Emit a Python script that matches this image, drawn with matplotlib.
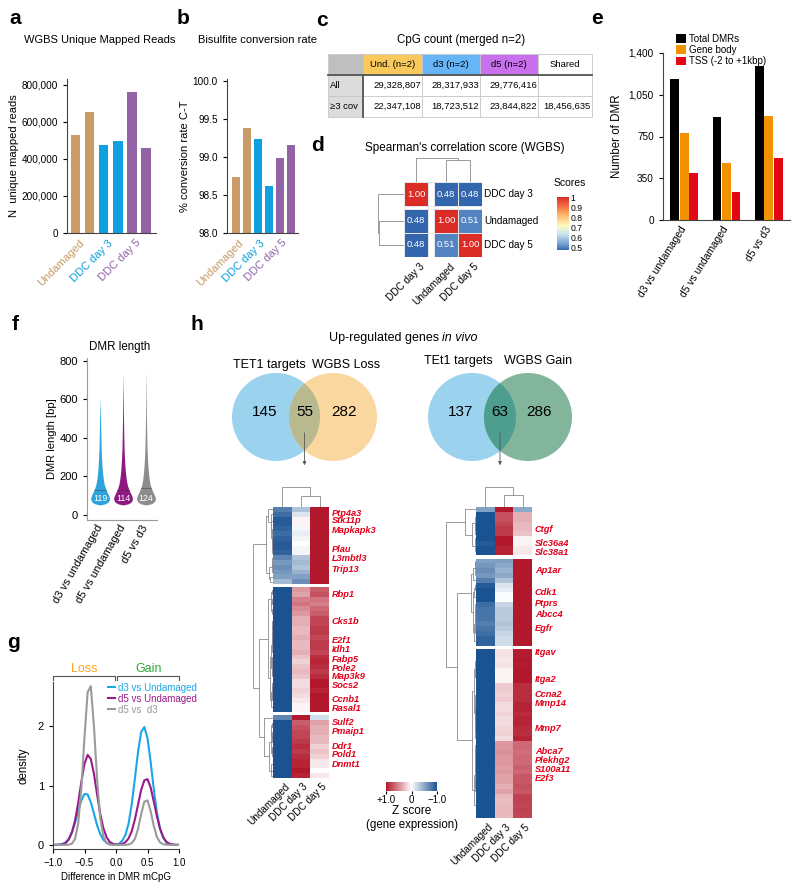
import numpy as np
import matplotlib
matplotlib.use('Agg')
import matplotlib.pyplot as plt
from matplotlib.patches import Circle
from matplotlib.colors import LinearSegmentedColormap

plt.rcParams['font.family'] = ['Liberation Sans', 'DejaVu Sans']
plt.rcParams['axes.linewidth'] = 0.8
plt.rcParams['axes.edgecolor'] = '#444444'
plt.rcParams['xtick.major.size'] = 3
plt.rcParams['ytick.major.size'] = 3
plt.rcParams['xtick.major.width'] = 0.8
plt.rcParams['ytick.major.width'] = 0.8

########################## data ##########################

samples = ['Undamaged', 'DDC day 3', 'DDC day 5']
sample_colors = ['#c89b67', '#0ea0e0', '#9264a6']
mapped_reads = [530000, 655000, 478000, 497000, 760000, 460000]
conversion = [98.73, 99.38, 99.23, 98.61, 98.99, 99.16]

table_head = ['', 'Und. (n=2)', 'd3 (n=2)', 'd5 (n=2)', 'Shared']
table_rows = ['All', '\u22653 cov']
cpg_all = ['29,328,807', '28,317,933', '29,776,416', '']
cpg_cov3 = ['22,347,108', '18,723,512', '23,844,822', '18,456,635']

corr_names = ['DDC day 3', 'Undamaged', 'DDC day 5']
corr = [[1.00, 0.48, 0.48],
        [0.48, 1.00, 0.51],
        [0.48, 0.51, 1.00]]

dmr_comps = ['d3 vs undamaged', 'd5 vs undamaged', 'd5 vs d3']
dmr_total = [1182, 863, 1291]
dmr_body = [729, 478, 872]
dmr_tss = [394, 235, 520]

# DMR length violins (shape)
len_median = [119, 114, 124]
len_max = [610, 740, 750]
len_line = [132, 128, 138]
profile_bp = [52, 58, 66, 76, 88, 100, 115, 132, 155, 180, 215, 250, 300, 350, 420, 500]
profile_w = [0.0, 0.55, 0.82, 0.97, 1.0, 0.93, 0.78, 0.62, 0.46, 0.36, 0.27, 0.21, 0.15, 0.11, 0.08, 0.05]
violin_colors = ['#2ca3dc', '#8e1a80', '#8c8c8c']

# density of DMR mCpG differences, sampled every 0.05 from -1 to 1
dens_x = np.linspace(-1, 1, 41)
dens_d3_und = [0, 0, 0.004, 0.015, 0.042, 0.10, 0.21, 0.37, 0.57, 0.75, 0.86, 0.85, 0.72, 0.53, 0.33,
               0.18, 0.085, 0.035, 0.012, 0.005, 0.008, 0.02, 0.07, 0.17, 0.36, 0.69, 1.12, 1.57, 1.91,
               1.99, 1.80, 1.40, 0.94, 0.54, 0.27, 0.12, 0.04, 0.01, 0.003, 0, 0]
dens_d5_und = [0, 0, 0.003, 0.01, 0.03, 0.09, 0.21, 0.41, 0.71, 1.06, 1.37, 1.52, 1.45, 1.20, 0.85,
               0.52, 0.28, 0.13, 0.05, 0.02, 0.005, 0.004, 0.016, 0.045, 0.11, 0.23, 0.43, 0.68, 0.93,
               1.09, 1.11, 0.97, 0.73, 0.48, 0.27, 0.13, 0.05, 0.02, 0.006, 0, 0]
dens_d5_d3 = [0, 0, 0, 0, 0, 0.003, 0.02, 0.10, 0.36, 0.95, 1.82, 2.58, 2.68, 2.00, 1.11,
              0.45, 0.14, 0.03, 0.005, 0, 0, 0, 0, 0, 0.006, 0.03, 0.10, 0.27, 0.52,
              0.73, 0.75, 0.57, 0.32, 0.13, 0.04, 0.01, 0.002, 0, 0, 0, 0]
dens_labels = ['d3 vs Undamaged', 'd5 vs Undamaged', 'd5 vs  d3']
dens_colors = ['#1aa7e8', '#9b1a8a', '#9a9a9a']

venn_loss = [145, 55, 282]
venn_gain = [137, 63, 286]

# z-scores (Undamaged, DDC day 3, DDC day 5), one list per row cluster
hm_loss = [
    [[-0.75, -0.35, 1.10], [-0.85, -0.15, 1.00], [-0.95, 0.05, 1.00], [-0.95, 0.05, 1.00],
     [-0.90, -0.05, 1.00], [-0.85, -0.10, 1.00], [-0.90, -0.05, 1.00], [-0.95, 0.0, 1.00],
     [-0.95, -0.05, 1.05], [-0.90, -0.05, 1.05], [-0.70, -0.35, 1.10], [-0.60, -0.40, 1.10],
     [-0.65, -0.35, 1.10], [-0.60, -0.45, 1.10], [-0.55, -0.55, 1.10], [-0.40, -0.65, 1.10]],
    [[-1.15, 0.45, 0.70], [-1.15, 0.40, 0.75], [-1.15, 0.55, 0.60], [-1.15, 0.60, 0.55],
     [-1.15, 0.50, 0.65], [-1.15, 0.45, 0.70], [-1.15, 0.35, 0.80], [-1.15, 0.35, 0.80],
     [-1.15, 0.30, 0.85], [-1.15, 0.30, 0.85], [-1.15, 0.35, 0.80], [-1.15, 0.30, 0.85],
     [-1.15, 0.30, 0.85], [-1.15, 0.35, 0.80], [-1.15, 0.25, 0.90], [-1.15, 0.20, 0.95],
     [-1.15, 0.25, 0.90], [-1.15, 0.30, 0.85], [-1.15, 0.25, 0.90], [-1.15, 0.15, 1.00],
     [-1.15, 0.15, 1.00], [-1.15, 0.20, 0.95], [-1.15, 0.15, 1.00], [-1.10, 0.10, 1.00],
     [-1.05, 0.05, 1.00], [-1.05, 0.05, 1.00]],
    [[-0.70, 1.10, -0.20], [-1.10, 0.70, 0.40], [-1.10, 0.75, 0.35], [-1.15, 0.80, 0.35],
     [-1.15, 0.80, 0.30], [-1.15, 0.85, 0.30], [-1.10, 0.90, 0.20], [-1.10, 0.85, 0.25],
     [-1.10, 0.90, 0.20], [-1.05, 0.95, 0.10], [-1.05, 0.95, 0.10], [-1.00, 1.00, 0.0],
     [-1.05, 0.95, 0.10]],
]
hm_gain = [
    [[-0.55, 1.10, -0.50], [-1.10, 0.75, 0.35], [-1.10, 0.75, 0.35], [-1.10, 0.80, 0.30],
     [-1.10, 0.85, 0.30], [-1.05, 0.85, 0.25], [-1.00, 1.00, 0.05], [-0.95, 1.05, 0.05],
     [-1.00, 0.95, 0.10], [-1.00, 0.95, 0.10]],
    [[-0.55, -0.55, 1.10], [-0.60, -0.50, 1.10], [-0.65, -0.45, 1.10], [-0.60, -0.50, 1.10],
     [-0.75, -0.35, 1.10], [-0.95, -0.15, 1.10], [-1.00, -0.10, 1.10], [-1.05, -0.02, 1.10],
     [-1.05, -0.02, 1.10], [-0.85, -0.25, 1.10], [-0.80, -0.30, 1.10], [-0.80, -0.30, 1.10],
     [-0.80, -0.30, 1.10], [-0.75, -0.35, 1.10], [-0.80, -0.30, 1.10], [-0.85, -0.25, 1.10],
     [-0.90, -0.20, 1.10], [-0.90, -0.20, 1.10]],
    [[-1.10, 0.12, 0.98], [-1.10, 0.12, 0.98], [-1.10, 0.10, 1.00], [-1.10, 0.12, 0.98],
     [-1.10, 0.05, 1.05], [-1.10, 0.05, 1.05], [-1.10, 0.05, 1.05], [-1.10, 0.22, 0.90],
     [-1.10, 0.22, 0.90], [-1.10, 0.20, 0.90], [-1.10, 0.22, 0.90], [-1.10, 0.15, 0.95],
     [-1.10, 0.15, 0.95], [-1.10, 0.18, 0.92], [-1.10, 0.15, 0.95], [-1.10, 0.15, 0.95],
     [-1.10, 0.18, 0.92], [-1.10, 0.20, 0.90], [-1.10, 0.15, 0.95], [-1.10, 0.45, 0.65],
     [-1.10, 0.45, 0.65], [-1.10, 0.48, 0.62], [-1.10, 0.45, 0.65], [-1.10, 0.45, 0.65],
     [-1.10, 0.42, 0.68], [-1.10, 0.45, 0.65], [-1.10, 0.40, 0.72], [-1.10, 0.40, 0.72],
     [-1.10, 0.35, 0.75], [-1.10, 0.40, 0.72], [-1.10, 0.30, 0.82], [-1.10, 0.28, 0.82],
     [-1.10, 0.30, 0.80], [-1.10, 0.30, 0.82], [-1.10, 0.30, 0.80]],
]
# (gene, row cluster, row position inside the cluster)
labels_loss = [('Ptp4a3', 0, 1.25), ('Stk11p', 0, 2.9), ('Mapkapk3', 0, 4.8), ('Plau', 0, 8.9),
               ('L3mbtl3', 0, 10.8), ('Trip13', 0, 12.9), ('Rbp1', 1, 1.5), ('Cks1b', 1, 7.1),
               ('E2f1', 1, 11.0), ('Idh1', 1, 12.9), ('Fabp5', 1, 15.1), ('Pole2', 1, 16.8),
               ('Map3k9', 1, 18.5), ('Socs2', 1, 20.4), ('Ccnb1', 1, 23.3), ('Rasal1', 1, 25.2),
               ('Sulf2', 2, 1.45), ('Pmaip1', 2, 3.3), ('Ddr1', 2, 6.5), ('Pold1', 2, 8.2),
               ('Dnmt1', 2, 10.1)]
labels_gain = [('Ctgf', 0, 4.7), ('Slc36a4', 0, 7.6), ('Slc38a1', 0, 9.4), ('Ap1ar', 1, 2.5),
               ('Cdk1', 1, 7.1), ('Ptprs', 1, 9.4), ('Abcc4', 1, 11.5), ('Egfr', 1, 14.4),
               ('Itgav', 2, 0.8), ('Itga2', 2, 6.4), ('Ccna2', 2, 9.5), ('Mmp14', 2, 11.4),
               ('Mmp7', 2, 16.4), ('Abca7', 2, 21.2), ('Plekhg2', 2, 23.1), ('S100a11', 2, 24.9),
               ('E2f3', 2, 26.9)]

########################## helpers ##########################

W, H = 800, 890
fig = plt.figure(figsize=(8, 8.9), dpi=100)


def box(x0, y0, x1, y1, **kw):
    return fig.add_axes([x0 / W, 1 - y1 / H, (x1 - x0) / W, (y1 - y0) / H], **kw)


def ftext(x, y, s, **kw):
    fig.text(x / W, 1 - y / H, s, **kw)


def clean(ax):
    ax.spines['top'].set_visible(False)
    ax.spines['right'].set_visible(False)


def neighbour_tree(rows, pos):
    # agglomerative clustering of neighbouring rows only, so the drawn order is kept
    nodes = [(np.asarray(r, float), 1, p, 0.0) for r, p in zip(rows, pos)]
    links = []
    while len(nodes) > 1:
        d = [np.linalg.norm(nodes[i][0] - nodes[i + 1][0]) for i in range(len(nodes) - 1)]
        i = int(np.argmin(d))
        (c1, n1, p1, h1), (c2, n2, p2, h2) = nodes[i], nodes[i + 1]
        h = max(d[i], h1, h2)
        links.append((p1, h1, p2, h2, h))
        nodes[i:i + 2] = [((c1 * n1 + c2 * n2) / (n1 + n2), n1 + n2, (p1 + p2) / 2, h)]
    return links, nodes[0]


def draw_links(ax, links, s, vertical):
    for p1, h1, p2, h2, h in links:
        if vertical:
            ax.plot([p1, p1, p2, p2], [h1 * s, h * s, h * s, h2 * s], color='#8a8a8a', lw=0.6)
        else:
            ax.plot([h1 * s, h * s, h * s, h2 * s], [p1, p1, p2, p2], color='#8a8a8a', lw=0.6)


for lab, x, y in [('a', 15, 18), ('b', 183, 18), ('c', 322, 20), ('d', 318, 145), ('e', 597, 18),
                  ('f', 15, 325), ('g', 13, 643), ('h', 197, 325)]:
    ftext(x, y, lab, fontsize=15, fontweight='bold', va='center', ha='center')

bar_cols = [c for c in sample_colors for _ in range(2)]

########################## a ##########################
axa = box(67, 79, 156, 233)
axa.bar(range(6), mapped_reads, 0.67, color=bar_cols)
axa.set_xlim(-0.6, 5.7)
axa.set_ylim(0, 832000)
axa.set_yticks([0, 200000, 400000, 600000, 800000])
axa.set_yticklabels(['0', '200,000', '400,000', '600,000', '800,000'], fontsize=7.2)
axa.set_ylabel('N  unique mapped reads', fontsize=8, labelpad=2)
axa.set_xticks([0.5, 2.5, 4.5])
axa.set_xticklabels(samples, rotation=45, ha='right', va='center', rotation_mode='anchor', fontsize=8)
for t, c in zip(axa.get_xticklabels(), sample_colors):
    t.set_color(c)
axa.tick_params(axis='x', length=0, pad=6)
clean(axa)
ftext(100, 40, 'WGBS Unique Mapped Reads', fontsize=8, ha='center', va='center')

########################## b ##########################
axb = box(227, 79, 298, 233)
axb.bar(range(6), conversion, 0.73, color=bar_cols)
axb.set_xlim(-0.82, 5.64)
axb.set_ylim(98.0, 100.02)
axb.set_yticks([98.0, 98.5, 99.0, 99.5, 100.0])
axb.set_yticklabels(['98.0', '98.5', '99.0', '99.5', '100.0'], fontsize=7.2)
axb.set_ylabel('% conversion rate C-T', fontsize=8, labelpad=2)
axb.set_xticks([0.5, 2.5, 4.5])
axb.set_xticklabels(samples, rotation=45, ha='right', va='center', rotation_mode='anchor', fontsize=8)
for t, c in zip(axb.get_xticklabels(), sample_colors):
    t.set_color(c)
axb.tick_params(axis='x', length=0, pad=6)
clean(axb)
ftext(258, 40, 'Bisulfite conversion rate', fontsize=8, ha='center', va='center')

########################## c ##########################
axc = box(328, 54, 592, 117)
axc.axis('off')
cells = [table_head, [table_rows[0]] + cpg_all, [table_rows[1]] + cpg_cov3]
head_cols = ['#bfbfbf', '#f9c95b', '#66b6f7', '#c870ee', 'white']
colours = [head_cols, ['#dcdcdc'] + ['white'] * 4, ['#dcdcdc'] + ['white'] * 4]
tb = axc.table(cellText=cells, cellColours=colours, colWidths=[35, 59, 58, 58, 54],
               bbox=[0, 0, 1, 1], cellLoc='center')
tb.auto_set_font_size(False)
tb.set_fontsize(6.8)
for (r, c), cell in tb.get_celld().items():
    cell.set_edgecolor('#c8c8c8')
    cell.set_linewidth(0.6)
    if r > 0 and c == 0:
        cell.get_text().set_horizontalalignment('left')
        cell.PAD = 0.06
    elif r > 0:
        cell.get_text().set_horizontalalignment('right')
        cell.PAD = 0.02
axc.plot([0, 1], [2 / 3, 2 / 3], transform=axc.transAxes, color='#555555', lw=1.3, clip_on=False)
axc.plot([35 / 264, 35 / 264], [0, 2 / 3], transform=axc.transAxes, color='#555555', lw=1.3,
         clip_on=False)
ftext(461, 40, 'CpG count (merged n=2)', fontsize=8.3, ha='center', va='center')

########################## d ##########################
corr_cmap = LinearSegmentedColormap.from_list(
    'scores', [(0.0, '#3466ae'), (0.1, '#6f9bd0'), (0.3, '#c9e4f0'), (0.45, '#fdfbc4'),
               (0.65, '#fdbb6c'), (0.83, '#f46d43'), (1.0, '#db2c26')])
cm = np.array(corr, float)
cm_gap = np.insert(np.insert(cm, 1, np.nan, axis=0), 1, np.nan, axis=1)
xe = [0, 1, 1.25, 2.25, 3.25]
ye = [0, 1, 1.12, 2.12, 3.12]
xc = [0.5, 1.75, 2.75]
yc = [0.5, 1.62, 2.62]
axd = box(404, 182, 482, 257)
mesh = axd.pcolormesh(xe, ye, np.ma.masked_invalid(cm_gap), cmap=corr_cmap, vmin=0.48, vmax=1.0,
                      edgecolors='#e6e6e6', linewidth=0.5)
for i in range(3):
    for j in range(3):
        axd.text(xc[j], yc[i], '%.2f' % cm[i, j], color='white', fontsize=6.8, ha='center', va='center')
    axd.text(3.35, yc[i], corr_names[i], fontsize=7.2, ha='left', va='center')
    axd.text(xc[i] + 0.15, 3.3, corr_names[i], fontsize=7.2, ha='right', va='top', rotation=45,
             rotation_mode='anchor')
axd.set_xlim(0, 3.25)
axd.set_ylim(3.12, 0)
axd.axis('off')
inner_h = 1 - cm[1, 2]
root_h = 1 - (cm[0, 1] + cm[0, 2]) / 2
d_links = [(xc[1], 0, xc[2], 0, inner_h), (xc[0], 0, (xc[1] + xc[2]) / 2, inner_h, root_h)]
axdc = box(404, 158, 482, 182)
draw_links(axdc, d_links, 1, True)
axdc.set_xlim(0, 3.25)
axdc.set_ylim(0, root_h * 1.02)
axdc.axis('off')
axdr = box(377, 182, 404, 257)
draw_links(axdr, [(yc[1], 0, yc[2], 0, inner_h), (yc[0], 0, (yc[1] + yc[2]) / 2, inner_h, root_h)],
           1, False)
axdr.set_ylim(3.12, 0)
axdr.set_xlim(root_h * 1.02, 0)
axdr.axis('off')
cax = box(557, 197, 569, 250)
cb = fig.colorbar(mesh, cax=cax, ticks=[0.5, 0.6, 0.7, 0.8, 0.9, 1.0])
cb.ax.set_yticklabels(['0.5', '0.6', '0.7', '0.8', '0.9', '1'], fontsize=6.2)
cb.ax.tick_params(length=0, pad=1)
cb.outline.set_visible(False)
ftext(570, 183, 'Scores', fontsize=7.5, ha='center', va='center')
ftext(465, 148, "Spearman's correlation score (WGBS)", fontsize=8.5, ha='center', va='center')

########################## e ##########################
axe = box(663, 53, 790, 220)
xg = np.arange(3)
axe.bar(xg - 0.225, dmr_total, 0.21, color='black', label='Total DMRs')
axe.bar(xg, dmr_body, 0.21, color='#f39200', label='Gene body')
axe.bar(xg + 0.225, dmr_tss, 0.21, color='#e30613', label='TSS (-2 to +1kbp)')
axe.set_xlim(-0.5, 2.5)
axe.set_ylim(0, 1400)
axe.set_yticks([0, 350, 700, 1050, 1400])
axe.set_yticklabels(['0', '350', '750', '1,050', '1,400'], fontsize=7.2)
axe.set_ylabel('Number of DMR', fontsize=8.3, labelpad=4)
axe.set_xticks(xg)
axe.set_xticklabels(dmr_comps, rotation=58, ha='right', va='center', rotation_mode='anchor', fontsize=7.4)
axe.tick_params(axis='x', length=0, pad=5)
clean(axe)
axe.legend(loc='upper left', bbox_to_anchor=(671 / W, 1 - 29 / H), bbox_transform=fig.transFigure,
           frameon=False, fontsize=7, handlelength=1.0, handleheight=1.0, labelspacing=0.12,
           borderpad=0, handletextpad=0.4)

########################## f ##########################
axf = box(87, 358, 157, 520)
for k in range(3):
    yy = profile_bp + [len_max[k]]
    ww = np.array(profile_w + [0.0]) * 0.41
    axf.fill_betweenx(yy, k + 1 - ww, k + 1 + ww, color=violin_colors[k], lw=0)
    wl = np.interp(len_line[k], profile_bp, profile_w) * 0.41
    axf.plot([k + 1 - wl, k + 1 + wl], [len_line[k]] * 2, color='#333333', lw=0.5, alpha=0.6)
    axf.text(k + 1, 85, str(len_median[k]), color='white', fontsize=6.3, ha='center', va='center')
axf.set_xlim(0.43, 3.48)
axf.set_ylim(-26, 815)
axf.set_yticks([0, 200, 400, 600, 800])
axf.tick_params(axis='y', labelsize=8)
axf.set_ylabel('DMR length [bp]', fontsize=8, labelpad=2)
axf.set_xticks([1, 2, 3])
axf.set_xticklabels(dmr_comps, rotation=60, ha='right', va='center', rotation_mode='anchor', fontsize=8)
axf.tick_params(axis='x', length=0, pad=4)
for sp in ['left', 'bottom']:
    axf.spines[sp].set_color('#999999')
clean(axf)
ftext(120, 347, 'DMR length', fontsize=8.3, ha='center', va='center')

########################## g ##########################
axg = box(53, 682, 179, 849)
for ys, lab, c in zip([dens_d3_und, dens_d5_und, dens_d5_d3], dens_labels, dens_colors):
    axg.plot(dens_x, ys, color=c, lw=1.5, label=lab)
axg.set_xlim(-1.0, 1.0)
axg.set_ylim(-0.07, 2.75)
axg.set_xticks([-1.0, -0.5, 0.0, 0.5, 1.0])
axg.set_xticklabels(['\u22121.0', '\u22120.5', '0.0', '0.5', '1.0'], fontsize=7)
axg.set_yticks([0, 1, 2])
axg.tick_params(axis='y', labelsize=8)
axg.set_xlabel('Difference in DMR mCpG', fontsize=7, labelpad=3)
axg.set_ylabel('density', fontsize=8.3, labelpad=6)
clean(axg)
for x0, x1, lab, c in [(-1.0, -0.02, 'Loss', '#f5a623'), (0.02, 1.0, 'Gain', '#2ea836')]:
    axg.plot([x0, x0, x1, x1], [2.79, 2.85, 2.85, 2.79], color='#555555', lw=0.8, clip_on=False)
    axg.text((x0 + x1) / 2, 2.87, lab, color=c, fontsize=9, ha='center', va='bottom')
axg.legend(loc='upper left', bbox_to_anchor=(103 / W, 1 - 678 / H), bbox_transform=fig.transFigure,
           frameon=False, fontsize=7, labelcolor='linecolor', handlelength=0.7, labelspacing=0.1,
           borderpad=0, handletextpad=0.3)

########################## h ##########################
ftext(439, 338, 'Up-regulated genes', fontsize=9, ha='right', va='center')
ftext(442, 338, 'in vivo', fontsize=9, ha='left', va='center', style='italic')

canvas = box(0, 0, W, H, zorder=-1)
canvas.set_xlim(0, W)
canvas.set_ylim(H, 0)
canvas.axis('off')


def venn(cx1, cx2, cy, r, c1, c2, c12, counts, names, name_x, name_y):
    a = Circle((cx1, cy), r, color=c1, lw=0)
    b = Circle((cx2, cy), r, color=c2, lw=0)
    canvas.add_patch(a)
    canvas.add_patch(b)
    ov = Circle((cx1, cy), r, color=c12, lw=0)
    canvas.add_patch(ov)
    ov.set_clip_path(b)
    mid = (cx1 + cx2) / 2
    for x, n in zip([cx1 - 11, mid, cx2 + 11], counts):
        canvas.text(x, cy - 5, str(n), fontsize=11, ha='center', va='center')
    for x, s in zip(name_x, names):
        canvas.text(x, name_y, s, fontsize=9, ha='center', va='center')
    canvas.annotate('', xy=(mid, 468), xytext=(mid, cy + 13),
                    arrowprops=dict(arrowstyle='-|>', color='#555555', lw=0.6, mutation_scale=5))


venn(276, 333, 417, 44, '#9bd3ef', '#fad79e', '#b8b98e', venn_loss,
     ['TET1 targets', 'WGBS Loss'], [269, 346], 365)
venn(472, 528, 417, 44, '#9bd3ef', '#82b59b', '#4e9e90', venn_gain,
     ['TEt1 targets', 'WGBS Gain'], [458, 538], 361)

z_cmap = LinearSegmentedColormap.from_list('z', ['#1b5392', '#ffffff', '#b2182b'])
z_norm = plt.Normalize(-1.0, 1.0)
gap = 0.65


def heatmap(groups, labels, hx0, hx1, hy0, hy1, dend_x0, inner_top, mid_h):
    ax = box(hx0, hy0, hx1, hy1)
    offsets = []
    off = 0
    for g in groups:
        a = np.array(g)
        ax.pcolormesh(np.arange(4), off + np.arange(len(a) + 1), a, cmap=z_cmap, norm=z_norm)
        offsets.append(off)
        off += len(a) + gap
    total = off - gap
    ax.set_xlim(0, 3)
    ax.set_ylim(total, 0)
    ax.axis('off')
    for name, gi, r in labels:
        ax.text(3.15, offsets[gi] + r, name, color='#e2001a', fontsize=6.7, fontweight='bold',
                style='italic', ha='left', va='center')
    for j, s in enumerate(samples):
        ax.text(j + 0.6, total + 0.8, s, fontsize=7.2, ha='right', va='top', rotation=45,
                rotation_mode='anchor')
    # row dendrogram
    axr = box(dend_x0, hy0, hx0, hy1)
    trees = [neighbour_tree(g, [o + i + 0.5 for i in range(len(g))]) for g, o in zip(groups, offsets)]
    s = inner_top / max(t[1][3] for t in trees)
    for links, _ in trees:
        draw_links(axr, links, s, False)
    r1, r2, r3 = [t[1] for t in trees]
    p23 = (r2[2] + r3[2]) / 2
    draw_links(axr, [(r2[2], r2[3] * s, r3[2], r3[3] * s, mid_h), (r1[2], r1[3] * s, p23, mid_h, 1.0)],
               1, False)
    axr.set_ylim(total, 0)
    axr.set_xlim(1.04, 0)
    axr.axis('off')
    # column dendrogram
    axc2 = box(hx0, hy0 - 21, hx1, hy0)
    allrows = np.vstack([np.array(g) for g in groups])
    links, root = neighbour_tree(allrows.T, [0.5, 1.5, 2.5])
    draw_links(axc2, links, 1 / root[3], True)
    axc2.set_xlim(0, 3)
    axc2.set_ylim(0, 1.05)
    axc2.axis('off')


heatmap(hm_loss, labels_loss, 273, 329, 507, 778, 252, 0.45, 0.7)
heatmap(hm_gain, labels_gain, 476, 532, 507, 818, 445, 0.37, 0.63)

zax = box(386, 782, 437, 791)
zim = plt.cm.ScalarMappable(cmap=z_cmap, norm=z_norm)
zcb = fig.colorbar(zim, cax=zax, orientation='horizontal', ticks=[1.0, 0, -1.0])
zax.invert_xaxis()
zcb.ax.set_xticklabels(['+1.0', '0', '\u22121.0'], fontsize=7)
zcb.ax.tick_params(length=2, pad=1)
zcb.outline.set_visible(False)
ftext(412, 811, 'Z score', fontsize=8.5, ha='center', va='center')
ftext(412, 825, '(gene expression)', fontsize=8.3, ha='center', va='center')

fig.savefig('out.png', dpi=100)
